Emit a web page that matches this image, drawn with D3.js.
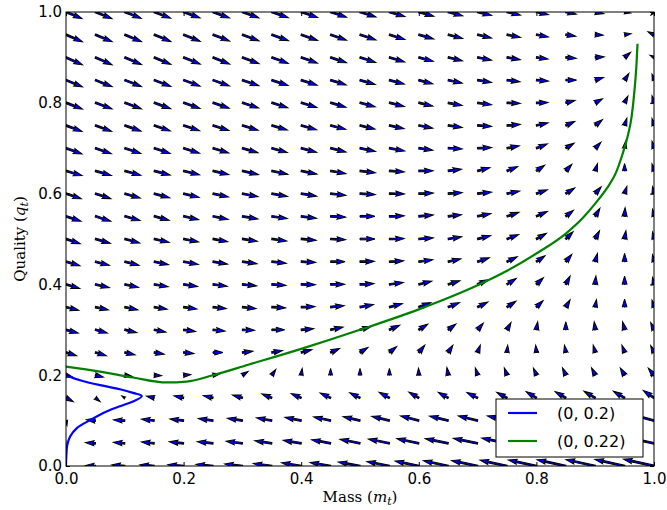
<!DOCTYPE html>
<html>
<head>
<meta charset="utf-8">
<script src="https://cdnjs.cloudflare.com/ajax/libs/d3/7.8.5/d3.min.js"></script>
<style>
  body { margin: 0; background: #fff; }
  text { font-family: "DejaVu Sans", sans-serif; }
</style>
</head>
<body>
<script>
// grid of the quiver: columns are mass, rows are quality (top row first)
var massGrid = [0, 0.05, 0.1, 0.15, 0.2, 0.25, 0.3, 0.35, 0.4, 0.45, 0.5,
                0.55, 0.6, 0.65, 0.7, 0.75, 0.8, 0.85, 0.9, 0.95, 1.0];
var qualityGrid = [1.0, 0.95, 0.9, 0.85, 0.8, 0.75, 0.7, 0.65, 0.6, 0.55, 0.5,
                   0.45, 0.4, 0.35, 0.3, 0.25, 0.2, 0.15, 0.1, 0.05, 0];

// rate of change of mass (one row per quality level)
var dMass = [
  [16, 16.5, 16.5, 16.5, 16.5, 16.5, 16.5, 16.5, 16.5, 16, 16, 15.5, 15, 14.5, 14, 13.5, 12, 10.5, 8.5, 6, -3],
  [16.5, 16.7, 16.7, 16.7, 16.7, 16.7, 16.7, 16.7, 16.5, 16, 16, 15.5, 15, 14.5, 14, 13.5, 12, 10, 8, 6.5, -6],
  [16.5, 16.7, 16.7, 16.7, 16.7, 16.7, 16.7, 16.5, 16.3, 16, 15.7, 15.3, 14.5, 14.3, 14, 13.3, 11.7, 10.5, 9, 6, -4],
  [16.5, 16.7, 16.7, 16.7, 16.5, 16.5, 16.5, 16.3, 16, 15.7, 15.3, 15, 14, 14, 14, 13, 12, 10.7, 8.3, 4.3, -2],
  [16.5, 16.7, 16.7, 16.5, 16.5, 16.3, 16.3, 16, 15.7, 15.5, 15.3, 15, 14, 14, 14, 13.3, 11.7, 9.3, 7.3, 3.3, -2],
  [16, 16.3, 16.3, 16.2, 16, 16, 15.8, 15.6, 15.4, 15.2, 15, 14.7, 14, 14, 14, 13.3, 11.7, 9, 7.3, 2.3, -2],
  [16, 16, 16, 16, 16, 15.8, 15.6, 15.5, 15.5, 15.5, 15.5, 15.3, 14, 14, 14, 12.3, 11, 8.3, 5.7, 1, -2],
  [16, 16, 16, 16, 16, 15.8, 16, 16, 15.7, 15.3, 15.5, 15, 14.3, 13.3, 12.3, 10.7, 8.3, 6, 2.3, 0, -2],
  [15.3, 15.5, 15.5, 15.5, 15.5, 15.5, 15.7, 15.7, 15.5, 15.3, 15.3, 15, 14.5, 14, 14, 12.7, 11, 9, 6, 2.3, -1.5],
  [15, 15.5, 15.3, 15, 15, 15.2, 15.5, 15.5, 15.3, 15, 15, 14.8, 14.5, 13.3, 13.3, 12, 11, 7.7, 4.7, 0.5, -1.5],
  [14.2, 15, 15, 15, 15, 14.8, 15, 15, 15, 15, 15, 14.8, 14.5, 13.5, 13, 11.7, 10, 7.3, 4.3, 1.3, -1.5],
  [14, 14, 14.3, 14.3, 14.7, 14.5, 14.5, 14.5, 14.5, 14.5, 14.3, 14.2, 14, 12.7, 11.7, 10.3, 8.7, 6, 2.3, 0, -1.5],
  [13.7, 14, 13.7, 14, 14, 14.2, 14.2, 14.2, 14.2, 14, 14, 14, 13, 11.7, 10.7, 9.3, 7, 4.3, 0.7, 0, -1.5],
  [12.8, 13, 13, 13, 13.3, 13.3, 13.7, 13.8, 13.8, 13.6, 13.5, 13, 12, 11.3, 10.3, 9, 6.7, 4.3, 1.3, 0, -2],
  [12.3, 12, 12, 11.7, 12, 12, 12.2, 12.8, 12.5, 12.5, 11.2, 10.3, 9, 7.7, 5.7, 4, 1.3, 0, -1, -2, -3.3],
  [10.7, 11, 10.3, 10, 10.3, 10, 10.5, 10.7, 10.7, 9, 8, 7.3, 6, 4.7, 2.7, 0.7, -0.7, -1.3, -2, -2.7, -3.3],
  [7, 8, 7.5, 7.3, 7.2, 7, 5.7, 4, 1, 0, 0, 0, -0.3, -1.3, -2.3, -2.7, -3, -3.3, -3.7, -4.3, -5.7],
  [7.3, 4.7, -3, -7.7, -9.7, -9.7, -10, -10, -10, -10.5, -10.3, -10.3, -10, -10, -10.7, -10.3, -10.3, -10.7, -11.3, -11.3, -10.7],
  [1, -9, -11.3, -12.7, -13.7, -14.7, -15, -15.3, -16.3, -17, -17, -17.7, -18.3, -18.7, -19.3, -19.7, -20, -20.7, -21.5, -22, -22],
  [-7, -10, -11.3, -12.7, -14.3, -15.7, -16.3, -17, -18, -19, -20, -21, -22, -23, -24.3, -25.3, -26, -26.5, -27, -27.7, -28],
  [-5, -10, -13, -14.3, -15.7, -17, -17.7, -18.5, -19.7, -20.5, -21.7, -22.5, -23.7, -24.8, -26, -27, -28, -28.7, -29.2, -29.7, -30.5]
];

// rate of change of quality
var dQuality = [
  [-6.5, -6.5, -6.3, -6.2, -6, -6, -5.8, -5.6, -5.4, -5.2, -5, -4.6, -4.2, -3.8, -3.4, -3, -2.6, -2.2, -1.6, -1, -3],
  [-7, -7, -7, -6.8, -6.6, -6.4, -6.2, -6, -5.8, -5.6, -5.2, -4.8, -4.3, -3.8, -3.3, -2.8, -2.2, -1.5, -0.5, 1, 3],
  [-7.5, -7.3, -7.2, -7, -6.8, -6.6, -6.3, -6, -5.7, -5.4, -5, -4.5, -4, -3.4, -2.8, -2.3, -1.7, -1, 0.5, 5, 2],
  [-6.8, -6.6, -6.5, -6.3, -6.1, -5.9, -5.7, -5.4, -5.1, -4.8, -4.4, -4, -3.7, -3, -2.3, -1.7, -1, 0, 2.5, 6.7, 6],
  [-6.3, -6.2, -6, -5.9, -5.7, -5.5, -5.2, -5, -4.7, -4.4, -4, -3.7, -3.3, -2.7, -2, -0.7, 0.3, 2.3, 4, 6.7, 7],
  [-6, -5.8, -5.6, -5.4, -5.2, -5, -4.8, -4.5, -4.2, -3.9, -3.6, -3.2, -2.7, -2, -1, 1, 2.7, 4, 6, 7.3, 7],
  [-5.7, -5.5, -5.3, -5.2, -5, -4.8, -4.6, -4.4, -4.2, -3.8, -3.3, -2.7, -2, -0.7, 0.7, 2.3, 4.3, 5, 6, 7, 7],
  [-4.7, -4.6, -4.4, -4.2, -4, -3.8, -3.7, -3.4, -3.2, -2.7, -1.8, -1, 0.2, 1.7, 3.3, 4.3, 5.7, 6.7, 7.3, 7.3, 7],
  [-5.2, -5, -4.5, -4.3, -3.8, -3.4, -3.1, -2.9, -2.6, -1.8, -1, -0.3, 0.5, 1, 1.5, 2.5, 3.7, 5.7, 6.7, 7.3, 7],
  [-5, -5, -4.3, -4, -3.4, -3.1, -2.7, -2.3, -2, -0.8, 0, 0.4, 1.3, 1.7, 2.7, 4, 4.8, 6, 8, 8.5, 7],
  [-4.6, -4.2, -4, -3.4, -3, -2.7, -2.3, -2, -1.3, -0.7, 0, 0.4, 1.2, 2.2, 3.3, 4.3, 5.7, 7.3, 8.3, 8.3, 7],
  [-4, -3.7, -3.6, -3, -2.7, -2.4, -2, -1.6, -0.8, 0, 0.4, 0.9, 2, 2.9, 4, 5, 6, 7.3, 8.3, 8.3, 7],
  [-4, -3.3, -3, -2.4, -2, -1.8, -1.5, -1, -0.3, 0.2, 0.8, 2, 3.3, 3.6, 4.7, 6, 6.7, 8.3, 8.3, 8.3, 7],
  [-3.2, -2.8, -2.7, -2.1, -1.9, -1.5, -1.5, -0.7, 0.5, 1.5, 2.5, 3.5, 4.5, 4.5, 5, 5.8, 6.5, 7.3, 7.5, 8, 7],
  [-3.3, -3.3, -2.7, -2.3, -1.7, -1.2, -0.6, 0, 1.1, 2.7, 3.4, 4.6, 5.7, 5.7, 6.7, 7.3, 8, 8, 8, 8, 7.3],
  [-3.3, -3.2, -2.3, -1.7, -1, 0, 1.2, 2, 2.7, 4, 5, 6, 7.3, 7.3, 7.3, 7.3, 7.3, 7.3, 7.3, 7.3, 7],
  [-2, -2, -1.3, -0.5, 0.5, 1.3, 3.7, 5.7, 6.7, 6.7, 6.7, 6.7, 7, 7.7, 7.3, 7.3, 7, 7.3, 7.3, 7.3, 7],
  [-3.7, -3.7, 2, 1.7, 2, 2.3, 3, 4, 4.3, 4.8, 5.2, 5.6, 5.8, 5.5, 5.3, 5.5, 6.3, 6.3, 6.7, 6.7, 7.3],
  [-5, 1, 0.7, 1.5, 1.7, 2, 2.3, 2.7, 3.3, 3.7, 4, 4.3, 4.7, 4.5, 4.7, 4.7, 5, 5.5, 5.7, 6, 6],
  [-0.5, 0.7, 1, 1.3, 1.5, 1.7, 2, 2.5, 3, 3.5, 4, 4.3, 4.6, 4.8, 5, 5.2, 5.5, 5.7, 6, 6, 6],
  [0, 0.5, 1, 1.2, 1.3, 1.7, 2, 2.5, 3.3, 3.5, 4, 4.5, 5, 5.3, 5.5, 5.8, 6, 6.2, 6.4, 6.6, 6.8]
];

// trajectories [mass, quality]
var trajectoryA = [[0, 0.2], [0.024, 0.189], [0.058, 0.178], [0.092, 0.169], [0.114, 0.161],
  [0.129, 0.154], [0.114, 0.142], [0.097, 0.134], [0.069, 0.12], [0.041, 0.101],
  [0.018, 0.083], [0.007, 0.065], [0.002, 0.045], [0.0005, 0.02], [0, 0.002]];
var trajectoryB = [[0, 0.219], [0.058, 0.208], [0.114, 0.195], [0.171, 0.184], [0.205, 0.186],
  [0.25, 0.2], [0.31, 0.223], [0.4, 0.258], [0.5, 0.3], [0.6, 0.345], [0.7, 0.398],
  [0.75, 0.43], [0.8, 0.468], [0.85, 0.512], [0.88, 0.548], [0.9, 0.578], [0.92, 0.612],
  [0.935, 0.645], [0.946, 0.685], [0.955, 0.725], [0.962, 0.77], [0.967, 0.83],
  [0.97, 0.88], [0.972, 0.93]];

var tickValues = [0, 0.2, 0.4, 0.6, 0.8, 1.0];
var seriesLabels = ['(0, 0.2)', '(0, 0.22)'];
var seriesColors = ['#0000ff', '#008000'];

var width = 667, height = 510;
var margin = { left: 66, top: 12, right: 13, bottom: 44 };

var x = d3.scaleLinear().domain([0, 1]).range([margin.left, width - margin.right]);
var y = d3.scaleLinear().domain([0, 1]).range([height - margin.bottom, margin.top]);
var arrowLen = d3.scaleLinear().domain([0, 10]).range([0, 10]);

var svg = d3.select('body').append('svg')
    .attr('width', width)
    .attr('height', height);

svg.append('clipPath').attr('id', 'plot-clip')
  .append('rect')
    .attr('x', x(0)).attr('y', y(1))
    .attr('width', x(1) - x(0)).attr('height', y(0) - y(1));

// matplotlib style quiver arrow (units of shaft width)
var shaft = 1.7;
function arrowPath(len) {
  var n = len / shaft;
  var X, Y;
  if (n >= 5) {
    X = [0, n - 4.5, n - 5, n, n - 5, n - 4.5, 0];
    Y = [0.5, 0.5, 1.5, 0, -1.5, -0.5, -0.5];
  } else {
    var s = n / 5;
    X = [0, 0.5, 0, 5, 0, 0.5, 0].map(function(d) { return d * s; });
    Y = [0.5, 0.5, 1.5, 0, -1.5, -0.5, -0.5].map(function(d) { return d * s; });
  }
  return 'M' + X.map(function(d, i) { return (d * shaft).toFixed(2) + ',' + (Y[i] * shaft).toFixed(2); }).join('L') + 'Z';
}

var cells = [];
qualityGrid.forEach(function(q, r) {
  massGrid.forEach(function(m, c) {
    cells.push({ m: m, q: q, u: dMass[r][c], v: dQuality[r][c] });
  });
});

svg.append('g')
    .attr('clip-path', 'url(#plot-clip)')
  .selectAll('path')
    .data(cells)
    .enter()
  .append('path')
    .attr('d', function(d) { return arrowPath(arrowLen(Math.sqrt(d.u * d.u + d.v * d.v))); })
    .attr('transform', function(d) {
      var ang = Math.atan2(-d.v, d.u) * 180 / Math.PI;
      return 'translate(' + x(d.m) + ',' + y(d.q) + ') rotate(' + ang + ')';
    })
    .attr('fill', '#0000ff')
    .attr('stroke', '#000')
    .attr('stroke-width', 1)
    .attr('stroke-linejoin', 'miter');

var line = d3.line()
    .x(function(d) { return x(d[0]); })
    .y(function(d) { return y(d[1]); });

svg.append('g')
    .attr('clip-path', 'url(#plot-clip)')
  .selectAll('path')
    .data([trajectoryA, trajectoryB])
    .enter()
  .append('path')
    .attr('d', function(d, i) {
      return line.curve(i === 0 ? d3.curveCatmullRom : d3.curveMonotoneX)(d);
    })
    .attr('fill', 'none')
    .attr('stroke', function(d, i) { return seriesColors[i]; })
    .attr('stroke-width', 2.2);

// axes, ticks point inward
var fmt = d3.format('.1f');
function styleAxis(g, labels) {
  g.select('.domain').remove();
  g.selectAll('.tick line').attr('stroke', '#000');
  g.selectAll('.tick text').attr('fill', '#000').style('font-size', '15px');
  if (!labels) { g.selectAll('.tick text').remove(); }
}
svg.append('g')
    .attr('transform', 'translate(0,' + y(0) + ')')
    .call(d3.axisBottom(x).tickValues(tickValues).tickFormat(fmt).tickSize(-4).tickPadding(7))
    .call(styleAxis, true);
svg.append('g')
    .attr('transform', 'translate(0,' + y(1) + ')')
    .call(d3.axisTop(x).tickValues(tickValues).tickSize(-4))
    .call(styleAxis, false);
svg.append('g')
    .attr('transform', 'translate(' + x(0) + ',0)')
    .call(d3.axisLeft(y).tickValues(tickValues).tickFormat(fmt).tickSize(-4).tickPadding(4))
    .call(styleAxis, true);
svg.append('g')
    .attr('transform', 'translate(' + x(1) + ',0)')
    .call(d3.axisRight(y).tickValues(tickValues).tickSize(-4))
    .call(styleAxis, false);

svg.append('rect')
    .attr('x', x(0)).attr('y', y(1))
    .attr('width', x(1) - x(0)).attr('height', y(0) - y(1))
    .attr('fill', 'none')
    .attr('stroke', '#000')
    .attr('stroke-width', 1);

// axis labels
var xl = svg.append('text')
    .attr('x', (x(0) + x(1)) / 2)
    .attr('y', 502)
    .attr('text-anchor', 'middle')
    .style('font-family', '"DejaVu Serif", serif')
    .style('font-size', '15px');
xl.append('tspan').text('Mass (');
xl.append('tspan').style('font-style', 'italic').text('m');
xl.append('tspan').attr('dy', 3).style('font-size', '11px').style('font-style', 'italic').text('t');
xl.append('tspan').attr('dy', -3).text(')');

var yl = svg.append('text')
    .attr('transform', 'translate(25,' + ((y(0) + y(1)) / 2) + ') rotate(-90)')
    .attr('text-anchor', 'middle')
    .style('font-family', '"DejaVu Serif", serif')
    .style('font-size', '15px');
yl.append('tspan').text('Quality (');
yl.append('tspan').style('font-style', 'italic').text('q');
yl.append('tspan').attr('dy', 3).style('font-size', '11px').style('font-style', 'italic').text('t');
yl.append('tspan').attr('dy', -3).text(')');

// legend
var legend = svg.append('g').attr('transform', 'translate(496,399)');
legend.append('rect')
    .attr('width', 147).attr('height', 58)
    .attr('fill', '#fff')
    .attr('stroke', '#000')
    .attr('stroke-width', 1);
var entry = legend.selectAll('g.entry')
    .data(seriesLabels)
    .enter()
  .append('g')
    .attr('class', 'entry')
    .attr('transform', function(d, i) { return 'translate(0,' + (14 + i * 28) + ')'; });
entry.append('line')
    .attr('x1', 12).attr('x2', 41)
    .attr('stroke', function(d, i) { return seriesColors[i]; })
    .attr('stroke-width', 2.2);
entry.append('text')
    .attr('x', 61)
    .attr('dy', '0.35em')
    .style('font-size', '16px')
    .text(function(d) { return d; });
</script>
</body>
</html>
